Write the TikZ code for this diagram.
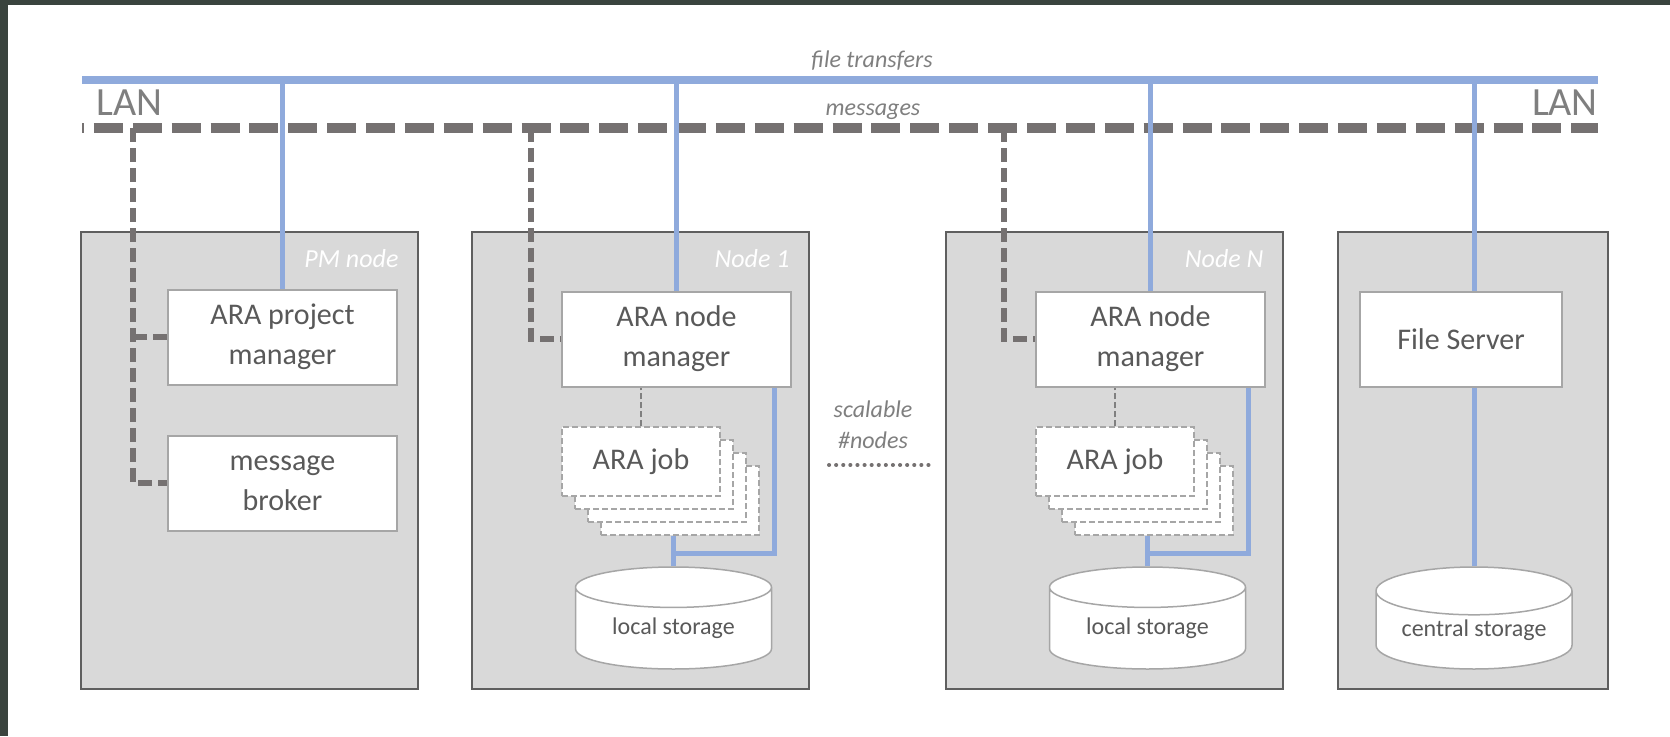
\documentclass[tikz,border=0pt]{standalone}
\usepackage{fontspec}
\setmainfont{Carlito}
\usepackage{tikz}
\usetikzlibrary{shapes.geometric,calc,positioning}

\definecolor{lanblue}{HTML}{8FAADC}
\definecolor{msggray}{HTML}{757171}
\definecolor{boxfill}{HTML}{D9D9D9}
\definecolor{boxline}{HTML}{5F5F5F}
\definecolor{partline}{HTML}{A6A6A6}
\definecolor{txtgray}{HTML}{595959}
\definecolor{labgray}{HTML}{7F7F7F}
\definecolor{shotdark}{HTML}{3A443E}

\tikzset{
  hostbox/.style={draw=boxline, fill=boxfill, line width=2pt, minimum height=457pt, inner sep=0pt},
  partbox/.style={draw=partline, fill=white, line width=2pt, minimum width=229pt, minimum height=95pt, inner sep=0pt, align=center, text=txtgray, font=\fontsize{30}{40}\selectfont},
  jobbox/.style={draw=partline, fill=white, line width=1.5pt, dash pattern=on 6pt off 3pt, minimum width=158pt, minimum height=69pt, inner sep=0pt, text=txtgray, font=\fontsize{30}{36}\selectfont},
  storebox/.style={cylinder, shape border rotate=90, aspect=0.33, draw=partline, fill=white, line width=1.5pt, minimum width=196pt, minimum height=102pt, inner sep=0pt, anchor=shape center, text=txtgray, font=\fontsize{24}{28}\selectfont},
  hostlabel/.style={anchor=east, text=white, font=\fontsize{26}{30}\selectfont\itshape},
  lanlabel/.style={text=labgray, inner sep=0pt, font=\fontsize{40}{44}\selectfont},
  buslabel/.style={anchor=base, inner sep=0pt, text=labgray, font=\fontsize{24}{28}\selectfont\itshape},
  lanline/.style={draw=lanblue, line width=8pt},
  msgline/.style={draw=msggray, line width=10pt, dash pattern=on 29pt off 9.88pt, dash phase=27pt},
  filelink/.style={draw=lanblue, line width=5pt},
  msglink/.style={draw=msggray, line width=6pt, dash pattern=on 14pt off 6pt},
  joblink/.style={draw=gray, line width=1.5pt, dash pattern=on 6pt off 3pt},
  scaleline/.style={draw=msggray, line width=4pt, line cap=round, dash pattern=on 0.1pt off 7pt},
}

\begin{document}
\begin{tikzpicture}[x=1pt,y=1pt,yscale=-1,xscale=1]
        \useasboundingbox (0,0) rectangle (1670,736);
        % screenshot frame
        \fill[shotdark] (0,0) rectangle (1670,736);
        \fill[white] (8,5) rectangle (1670,736);
        % LAN buses
        \coordinate (lanW) at (82,80);
        \coordinate (lanE) at (1598,80);
        \coordinate (msgW) at (82,128);
        \coordinate (msgE) at (1598,128);
        \draw[lanline] (lanW) -- (lanE);
        \draw[msgline] (msgW) -- (msgE);
        \node[buslabel] (ftlab) at (872,67) {file transfers};
        \node[buslabel] (msglab) at (873,115) {messages};
        \node[lanlabel, anchor=base west] (lanL) at (96,115) {LAN};
        \node[lanlabel, anchor=base east] (lanR) at (1598,115) {LAN};
        % hosts
        \node[hostbox, minimum width=337pt] (pm) at (249.5,460.5) {};
        \node[hostbox, minimum width=337pt] (n1) at (640.5,460.5) {};
        \node[hostbox, minimum width=337pt] (nN) at (1114.5,460.5) {};
        \node[hostbox, minimum width=270pt] (fs) at (1473,460.5) {};
        \node[hostlabel] (pmlab) at ($(pm.north east)+(-17,28)$) {PM node};
        \node[hostlabel] (n1lab) at ($(n1.north east)+(-17,28)$) {Node 1};
        \node[hostlabel] (nNlab) at ($(nN.north east)+(-17,28)$) {Node N};
        % scalable
        \node[text=labgray, align=center, font=\fontsize{24}{31}\selectfont\itshape] (scal) at (873,425) {scalable\\\#nodes};
        \coordinate (sclW) at (829,465);
        \coordinate (sclE) at (934,465);
        \draw[scaleline] (sclW) -- (sclE);
        % PM node
        \node[partbox] (pmgr) at (282.5,337) {ARA project\\manager};
        \node[partbox] (broker) at (282.5,483) {message\\broker};
        % Node 1
        \node[partbox] (mgr1) at (676.5,339) {ARA node\\manager};
        \node[jobbox] (job1d) at (680,500.5) {};
        \node[jobbox] (job1c) at (667,487.5) {};
        \node[jobbox] (job1b) at (654,474.5) {};
        \node[jobbox] (job1a) at (641,461.5) {ARA job};
        \node[storebox] (ls1) at (673.5,618) {local storage};
        \coordinate (bus1) at (673.5,553);
        % Node N
        \node[partbox] (mgrN) at (1150.5,339) {ARA node\\manager};
        \node[jobbox] (jobNd) at (1154,500.5) {};
        \node[jobbox] (jobNc) at (1141,487.5) {};
        \node[jobbox] (jobNb) at (1128,474.5) {};
        \node[jobbox] (jobNa) at (1115,461.5) {ARA job};
        \node[storebox] (lsN) at (1147.5,618) {local storage};
        \coordinate (busN) at (1147.5,553);
        % File server
        \node[partbox, minimum width=202pt] (fsrv) at (1461,339) {File Server};
        \node[storebox] (cs) at (1474,618) {central storage};
        % message links
        \coordinate (mtapPM) at (133,128);
        \coordinate (mtap1) at (531,128);
        \coordinate (mtapN) at (1004,128);
        \draw[msglink] (mtapPM) |- (broker.west);
        \draw[msglink] (pmgr.west) -- (pmgr.west -| mtapPM);
        \draw[msglink] (mtap1) |- (mgr1.west);
        \draw[msglink] (mtapN) |- (mgrN.west);
        \draw[joblink] (job1a.north) -- (job1a.north |- mgr1.south);
        \draw[joblink] (jobNa.north) -- (jobNa.north |- mgrN.south);
        % file links
        \draw[filelink] (pmgr.north) -- (pmgr.north |- lanW);
        \draw[filelink] (mgr1.north) -- (mgr1.north |- lanW);
        \draw[filelink] (mgrN.north) -- (mgrN.north |- lanW);
        \draw[filelink] (cs.north |- fsrv.north) -- (cs.north |- lanW);
        \draw[filelink] ($(mgr1.south east)+(-18,0)$) |- (bus1);
        \draw[filelink] (job1d.south -| bus1) -- (ls1.north);
        \draw[filelink] ($(mgrN.south east)+(-18,0)$) |- (busN);
        \draw[filelink] (jobNd.south -| busN) -- (lsN.north);
        \draw[filelink] (cs.north) -- (cs.north |- fsrv.south);
        \end{tikzpicture}
\end{document}
